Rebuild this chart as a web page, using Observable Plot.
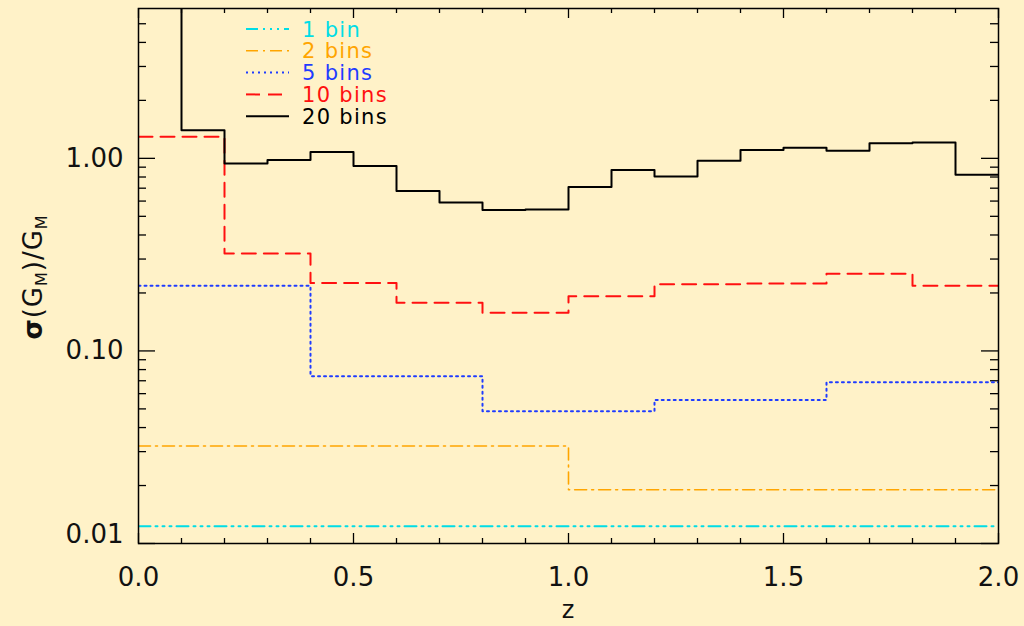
<!DOCTYPE html>
<html>
<head>
<meta charset="utf-8">
<script src="https://cdn.jsdelivr.net/npm/d3@7"></script>
<script src="https://cdn.jsdelivr.net/npm/@observablehq/plot@0.6"></script>
<style>
  html, body { margin: 0; padding: 0; background: #fff2c8; }
  #wrap { position: relative; width: 1024px; height: 626px; overflow: hidden; }
  #legend { position: absolute; left: 240px; top: 15px; }
</style>
</head>
<body>
<div id="wrap"></div>
<script>
// ---- data ----
const seriesNames = ["1 bin", "2 bins", "5 bins", "10 bins", "20 bins"];
const seriesColors = ["#00dde6", "#ffa500", "#1f3cff", "#ff1010", "#000000"];
const seriesDash = ["12,5,2,5,2,5,2,5", "12,5,2,5", "2,4", "14,8", null];
const seriesWidth = [2, 1.6, 2, 2, 2];
const bins1 = [0.0123];
const bins2 = [0.0321, 0.0190];
const bins5 = [0.218, 0.0739, 0.0486, 0.0556, 0.0688];
const bins10 = [1.295, 0.321, 0.225, 0.178, 0.158, 0.192, 0.222, 0.224, 0.252, 0.218];
const bins20 = [20, 1.40, 0.94, 0.98, 1.08, 0.912, 0.676, 0.59, 0.539, 0.543,
                0.709, 0.869, 0.806, 0.972, 1.104, 1.135, 1.095, 1.197, 1.21, 0.822];
const zMin = 0, zMax = 2;
const xTickLabels = [0, 0.5, 1.0, 1.5, 2.0];
const xMinorTicks = [0.1,0.2,0.3,0.4,0.6,0.7,0.8,0.9,1.1,1.2,1.3,1.4,1.6,1.7,1.8,1.9];
const yTickLabels = [1, 0.1];
const yBottomLabel = [0.01];
const yMajorTicks = [0.01, 0.1, 1];
const yMinorTicks = [0.02,0.03,0.04,0.05,0.06,0.07,0.08,0.09,
                     0.2,0.3,0.4,0.5,0.6,0.7,0.8,0.9, 2,3,4,5];
const yDomain = [0.01, 6];

// ---- build step tables ----
const allSeries = [bins1, bins2, bins5, bins10, bins20];
function steps(vals, name) {
  const n = vals.length, w = (zMax - zMin) / n;
  const pts = vals.map((v, i) => ({z: zMin + i * w, v, name}));
  pts.push({z: zMax, v: vals[n - 1], name});
  return pts;
}
const tables = allSeries.map((vals, i) => steps(vals, seriesNames[i]));

// tick lengths (in px converted to data units)
const pxPerZ = 860 / (zMax - zMin);
const pxPerDecade = 535 / Math.log10(yDomain[1] / yDomain[0]);
const yMajLen = 17 / pxPerZ, yMinLen = 8 / pxPerZ;
const xMajF = Math.pow(10, 10 / pxPerDecade), xMinF = Math.pow(10, 5 / pxPerDecade);

const tickStyle = {stroke: "black", strokeWidth: 1.3, clip: false};

const lineMarks = tables.map((t, i) => Plot.line(t, {
  x: "z", y: "v", curve: "step-after",
  stroke: seriesColors[i], strokeWidth: seriesWidth[i],
  strokeDasharray: seriesDash[i] || undefined,
  clip: true
}));

const chart = Plot.plot({
  width: 1024, height: 626,
  marginLeft: 138, marginRight: 26, marginTop: 8, marginBottom: 83,
  x: {domain: [zMin, zMax], axis: null},
  y: {type: "log", domain: yDomain, axis: null},
  style: {background: "#fff2c8", fontFamily: "DejaVu Sans", fontSize: "26px", color: "black"},
  marks: [
    // y ticks left/right
    Plot.ruleY(yMajorTicks, {y: d => d, x1: zMin, x2: zMin + yMajLen, ...tickStyle}),
    Plot.ruleY(yMinorTicks, {y: d => d, x1: zMin, x2: zMin + yMinLen, ...tickStyle}),
    Plot.ruleY(yMajorTicks, {y: d => d, x1: zMax, x2: zMax - yMajLen, ...tickStyle}),
    Plot.ruleY(yMinorTicks, {y: d => d, x1: zMax, x2: zMax - yMinLen, ...tickStyle}),
    // x ticks bottom/top
    Plot.ruleX(xTickLabels, {x: d => d, y1: yDomain[0], y2: yDomain[0] * xMajF, ...tickStyle}),
    Plot.ruleX(xMinorTicks, {x: d => d, y1: yDomain[0], y2: yDomain[0] * xMinF, ...tickStyle}),
    Plot.ruleX(xTickLabels, {x: d => d, y1: yDomain[1], y2: yDomain[1] / xMajF, ...tickStyle}),
    Plot.ruleX(xMinorTicks, {x: d => d, y1: yDomain[1], y2: yDomain[1] / xMinF, ...tickStyle}),
    ...lineMarks,
    Plot.frame({stroke: "black", strokeWidth: 1.5}),
    // tick labels
    Plot.text(xTickLabels, {x: d => d, frameAnchor: "bottom", lineAnchor: "top", dy: 24,
      text: d => d.toFixed(1), fontSize: 26, fill: "#111"}),
    Plot.text(yTickLabels, {y: d => d, frameAnchor: "left", textAnchor: "end", dx: -15,
      text: d => d.toFixed(2), fontSize: 26, fill: "#111"}),
    Plot.text(yBottomLabel, {y: d => d, frameAnchor: "left", textAnchor: "end", dx: -15, dy: -9,
      text: d => d.toFixed(2), fontSize: 26, fill: "#111"})
  ]
});

document.getElementById("wrap").appendChild(chart);

const svg = d3.select(chart);
// x label
svg.append("text").attr("x", 568).attr("y", 618).attr("text-anchor", "middle")
  .attr("font-family", "DejaVu Sans").attr("font-size", 24).attr("fill", "#111").text("z");
// y label
const yl = svg.append("text")
  .attr("transform", "translate(42,277) rotate(-90)")
  .attr("text-anchor", "middle")
  .attr("font-family", "DejaVu Sans").attr("font-size", 26).attr("fill", "#111")
  .attr("letter-spacing", "1px");
yl.append("tspan").attr("font-weight", "bold").text("σ");
yl.append("tspan").text("(G");
yl.append("tspan").attr("font-size", 16).attr("dy", 5).text("M");
yl.append("tspan").attr("dy", -5).text(")/G");
yl.append("tspan").attr("font-size", 16).attr("dy", 5).text("M");

// legend overlay
const leg = d3.select("#wrap").append("svg").attr("id", "legend")
  .attr("width", 180).attr("height", 120);
seriesNames.forEach((name, i) => {
  const y = 14 + i * 21.8;
  leg.append("line").attr("x1", 6).attr("x2", 49).attr("y1", y).attr("y2", y)
    .attr("stroke", seriesColors[i]).attr("stroke-width", seriesWidth[i])
    .attr("stroke-dasharray", seriesDash[i]);
  leg.append("text").attr("x", 62).attr("y", y).attr("dy", "0.36em")
    .attr("font-family", "DejaVu Sans").attr("font-size", 21)
    .attr("letter-spacing", "1.3px")
    .attr("fill", seriesColors[i]).text(name);
});
</script>
</body>
</html>
